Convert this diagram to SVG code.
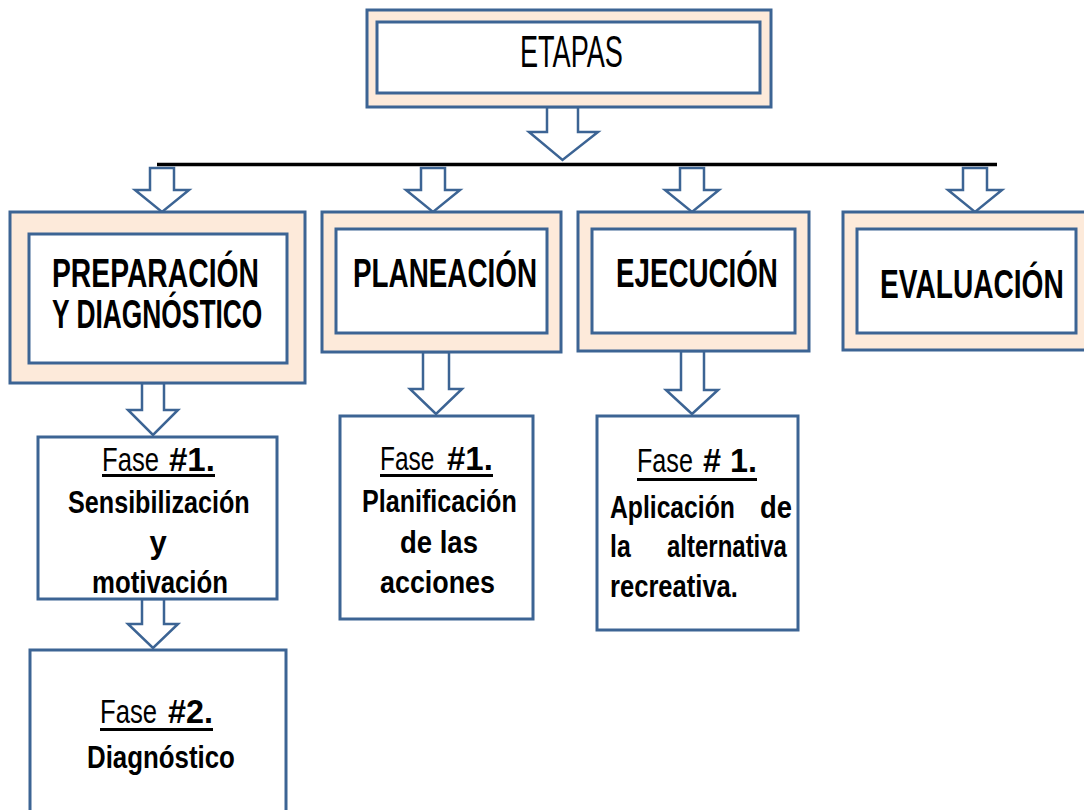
<svg xmlns="http://www.w3.org/2000/svg" width="1084" height="810" viewBox="0 0 1084 810">
<style>
.outer{fill:#FDEADA;stroke:#3C6494;stroke-width:3}
.inner{fill:#FFFFFF;stroke:#3C6494;stroke-width:3}
.box{fill:#FFFFFF;stroke:#3C6494;stroke-width:3}
.arrow{fill:#FFFFFF;stroke:#3C6494;stroke-width:2.5;stroke-linejoin:miter}
.t{font-family:"Liberation Sans",Arial,sans-serif;fill:#000}
.title{font-size:41px;font-weight:bold}
.body{font-size:31px;font-weight:bold}
.fase{font-size:34px}
.num{font-size:33px;font-weight:bold}
.ul{fill:#000}
</style>
<rect width="1084" height="810" fill="#FFFFFF"/>
<g id="connectors">
<line x1="157" y1="164.5" x2="997" y2="164.5" stroke="#000" stroke-width="3.5"/>
<polygon class="arrow" points="547,107 578,107 578,132 598,132 562.5,160 529,132 547,132"/>
<polygon class="arrow" points="150,168 174,168 174,190 189,190 162,212 135,190 150,190"/>
<polygon class="arrow" points="421,168 445,168 445,190 460,190 433,212 406,190 421,190"/>
<polygon class="arrow" points="680,168 704,168 704,190 719,190 692,212 665,190 680,190"/>
<polygon class="arrow" points="963,168 987,168 987,190 1002,190 975,212 948,190 963,190"/>
<polygon class="arrow" points="142,383 164,383 164,410 178,410 153,435 128,410 142,410"/>
<polygon class="arrow" points="142,599 164,599 164,624 178,624 153,648 128,624 142,624"/>
<polygon class="arrow" points="423,352 449,352 449,389 462,389 436,414 410,389 423,389"/>
<polygon class="arrow" points="681,351 704,351 704,390 718,390 692,414 666,390 681,390"/>
</g>
<g id="etapas">
<rect class="outer" x="367" y="10" width="404" height="97"/>
<rect class="inner" x="377" y="22" width="383" height="71"/>
<text class="t" font-size="44" transform="translate(520,67) scale(0.616,1)">ETAPAS</text>
</g>
<g id="preparacion">
<rect class="outer" x="10" y="212" width="295" height="171"/>
<rect class="inner" x="29" y="234" width="258" height="129"/>
<text class="t title" transform="translate(52,287) scale(0.69,1)">PREPARACIÓN</text>
<text class="t title" transform="translate(52,328) scale(0.643,1)">Y DIAGNÓSTICO</text>
</g>
<g id="planeacion">
<rect class="outer" x="322" y="212" width="239" height="140"/>
<rect class="inner" x="336" y="229" width="211" height="104"/>
<text class="t title" transform="translate(353,287) scale(0.679,1)">PLANEACIÓN</text>
</g>
<g id="ejecucion">
<rect class="outer" x="578" y="212" width="231" height="139"/>
<rect class="inner" x="592" y="229" width="203" height="104"/>
<text class="t title" transform="translate(616,287) scale(0.677,1)">EJECUCIÓN</text>
</g>
<g id="evaluacion">
<rect class="outer" x="843" y="212" width="245" height="138"/>
<rect class="inner" x="857" y="229" width="219" height="104"/>
<text class="t title" transform="translate(880,298) scale(0.686,1)">EVALUACIÓN</text>
</g>
<g id="fase1-preparacion">
<rect class="box" x="38" y="437" width="239" height="162"/>
<text class="t fase" transform="translate(102,471) scale(0.754,1)">Fase</text>
<text class="t num" transform="translate(169,471) scale(1,1)">#1.</text>
<rect class="ul" x="102" y="474" width="113" height="3"/>
<text class="t body" transform="translate(68,513) scale(0.812,1)">Sensibilización</text>
<text class="t body" x="158" y="553" text-anchor="middle">y</text>
<text class="t body" transform="translate(92,593) scale(0.831,1)">motivación</text>
</g>
<g id="fase2-preparacion">
<rect class="box" x="30" y="650" width="256" height="175"/>
<text class="t fase" transform="translate(100,723) scale(0.754,1)">Fase</text>
<text class="t num" transform="translate(168,723) scale(0.98,1)">#2.</text>
<rect class="ul" x="100" y="728" width="113" height="3"/>
<text class="t body" transform="translate(87,768) scale(0.834,1)">Diagnóstico</text>
</g>
<g id="fase1-planeacion">
<rect class="box" x="340" y="416" width="193" height="203"/>
<text class="t fase" transform="translate(380,470) scale(0.72,1)">Fase</text>
<text class="t num" transform="translate(447,470) scale(1,1)">#1.</text>
<rect class="ul" x="380" y="474" width="113" height="3"/>
<text class="t body" transform="translate(362,512) scale(0.81,1)">Planificación</text>
<text class="t body" transform="translate(400,553) scale(0.887,1)">de las</text>
<text class="t body" transform="translate(380,593) scale(0.867,1)">acciones</text>
</g>
<g id="fase1-ejecucion">
<rect class="box" x="597" y="416" width="201" height="214"/>
<text class="t fase" transform="translate(637,472) scale(0.74,1)">Fase</text>
<text class="t num" transform="translate(703,472) scale(0.98,1)"># 1.</text>
<rect class="ul" x="637" y="478" width="120" height="3"/>
<text class="t body" transform="translate(610,518) scale(0.797,1)">Aplicación</text>
<text class="t body" transform="translate(760,518) scale(0.884,1)">de</text>
<text class="t body" transform="translate(610,557) scale(0.8,1)">la</text>
<text class="t body" transform="translate(667,557) scale(0.774,1)">alternativa</text>
<text class="t body" transform="translate(610,597) scale(0.825,1)">recreativa.</text>
</g>
</svg>
